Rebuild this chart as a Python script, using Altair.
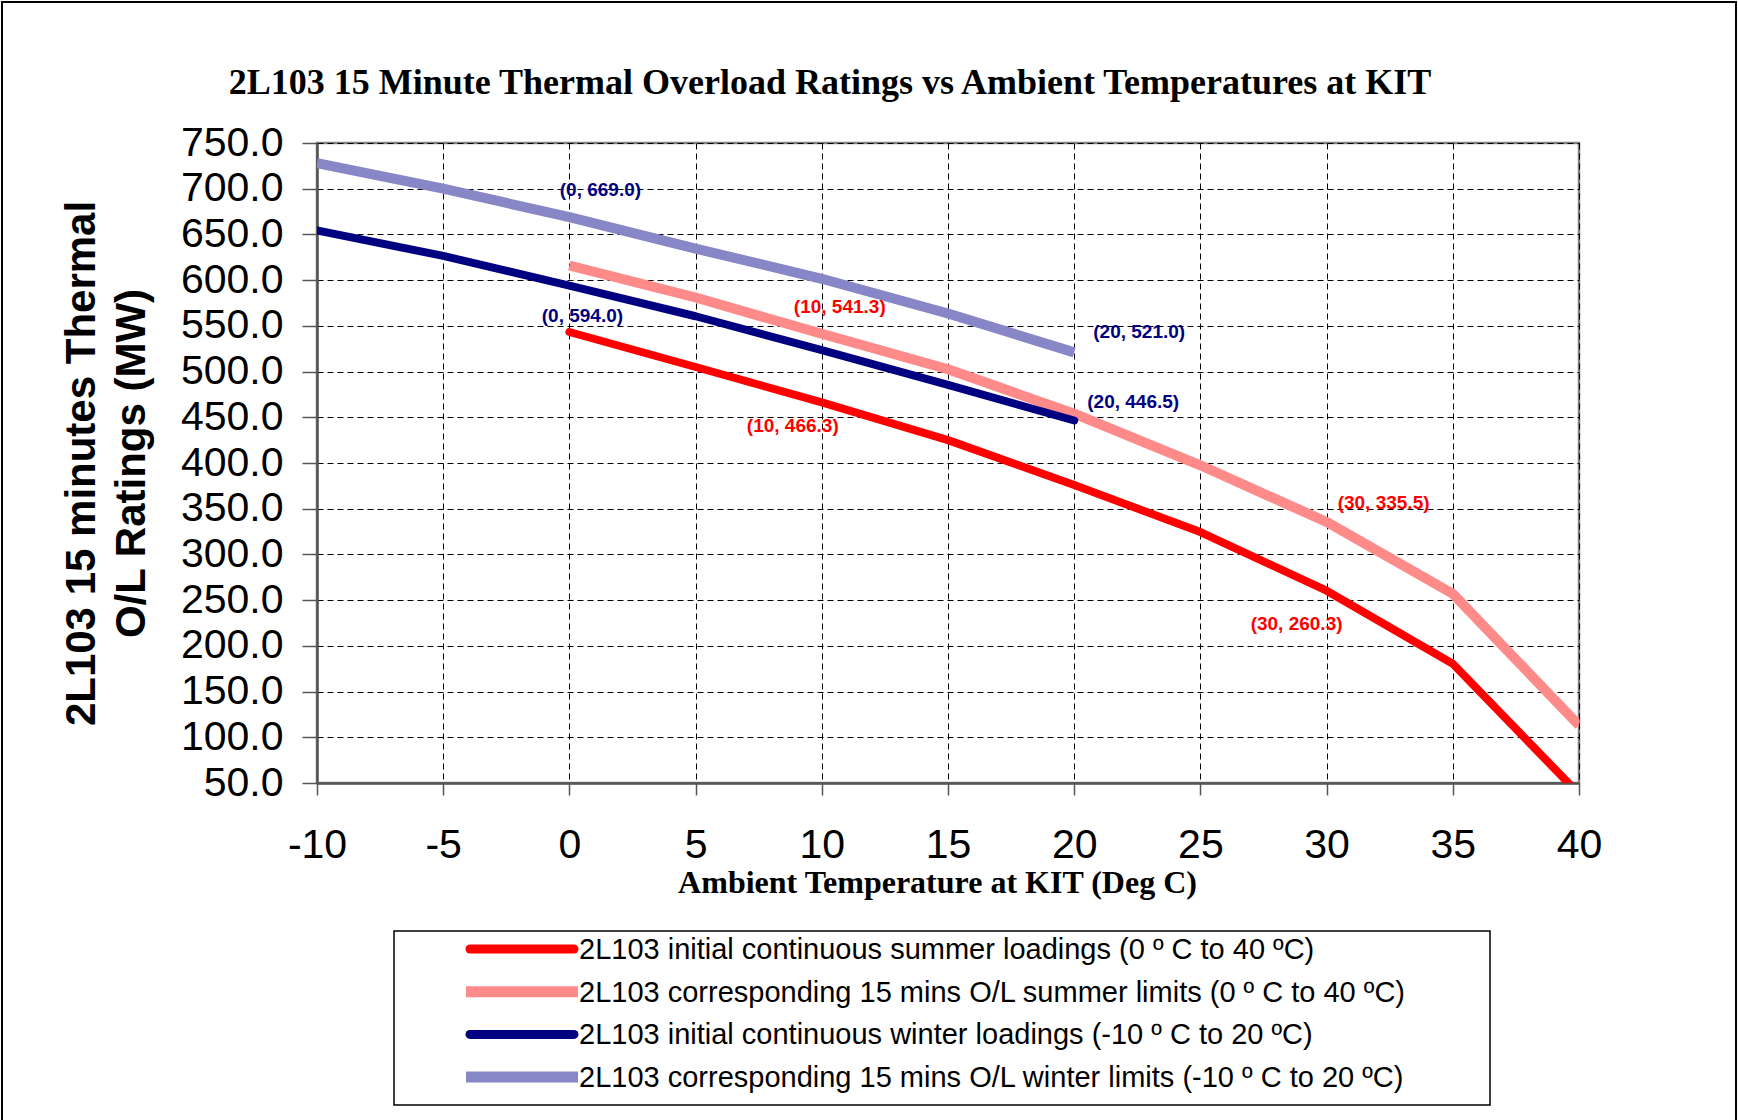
import altair as alt
import pandas as pd

# ---------------- data ----------------
chart_title = "2L103 15 Minute Thermal Overload Ratings vs Ambient Temperatures at KIT"

summer_x = [0, 5, 10, 15, 20, 25, 30, 35, 40]
summer_initial = [543.3, 505.0, 466.3, 425.0, 376.0, 324.5, 260.3, 180.5, 38.0]
summer_limits = [616.0, 581.0, 541.3, 502.5, 454.0, 397.5, 335.5, 257.0, 113.0]

winter_x = [-10, -5, 0, 5, 10, 15, 20]
winter_initial = [654.5, 626.5, 594.0, 560.5, 523.5, 485.5, 446.5]
winter_limits = [728.0, 700.0, 669.0, 634.5, 601.5, 563.5, 521.0]

series_names = [
    "2L103 initial continuous summer loadings (0 º C to 40 ºC)",
    "2L103 corresponding 15 mins O/L summer limits (0 º C to 40 ºC)",
    "2L103 initial continuous winter loadings (-10 º C to 20 ºC)",
    "2L103 corresponding 15 mins O/L winter limits (-10 º C to 20 ºC)",
]
series_colors = ["#FF0000", "#FF8A8A", "#000080", "#8787C8"]
series_widths = [8, 10, 8, 10]
series_caps = ["round", "butt", "round", "butt"]

x_ticks = [-10, -5, 0, 5, 10, 15, 20, 25, 30, 35, 40]
y_ticks = [50, 100, 150, 200, 250, 300, 350, 400, 450, 500, 550, 600, 650, 700, 750]

# annotated points: (series index, x value)
annot_series = [3, 2, 1, 0, 3, 2, 1, 0]
annot_x = [0, 0, 10, 10, 20, 20, 30, 30]
annot_dx = [31, 13, 18, -29, 65, 59, 57, -30]
annot_dy = [-27, 30, -27, 24, -20, -18, -19, 33]
annot_colors = ["#000080", "#000080", "#FF0000", "#FF0000", "#000080", "#000080", "#FF0000", "#FF0000"]

all_x = [summer_x, summer_x, winter_x, winter_x]
all_y = [summer_initial, summer_limits, winter_initial, winter_limits]

# ---------------- chart ----------------
xscale = alt.Scale(domain=[-10, 40], nice=False, zero=False)
yscale = alt.Scale(domain=[50, 750], nice=False, zero=False)

x_axis = alt.Axis(
    values=x_ticks, labelExpr="'' + datum.value", tickSize=12, labelPadding=30,
    labelFlush=False, labelOverlap=False,
    title="Ambient Temperature at KIT (Deg C)",
    titleFont="Liberation Serif", titleFontSize=32, titleFontWeight="bold",
    titleX=620, titleY=99, titleAlign="center", titleBaseline="middle",
)
y_axis = alt.Axis(
    values=y_ticks, format=".1f", tickSize=15, labelPadding=19,
    labelFlush=False, labelOverlap=False,
    title=["2L103 15 minutes Thermal", "O/L Ratings (MW)"],
    titleFont="Liberation Sans", titleFontSize=42, titleFontWeight="bold",
    titleAngle=270, titleX=-236, titleY=320, titleAlign="center",
    titleBaseline="middle", titleLineHeight=50,
)

layers = []

for i, name in enumerate(series_names):
    df = pd.DataFrame({"t": all_x[i], "v": all_y[i], "series": name})
    layers.append(
        alt.Chart(df).mark_line(
            color=series_colors[i], strokeWidth=series_widths[i],
            strokeCap=series_caps[i], strokeJoin="round", clip=True,
        ).encode(
            x=alt.X("t:Q", scale=xscale, axis=x_axis),
            y=alt.Y("v:Q", scale=yscale, axis=y_axis),
            order="t:Q",
        )
    )

for k in range(len(annot_x)):
    s = annot_series[k]
    xv = annot_x[k]
    vv = all_y[s][all_x[s].index(xv)]
    df = pd.DataFrame({"t": [xv], "v": [vv], "lab": [f"({xv}, {vv:.1f})"]})
    layers.append(
        alt.Chart(df).mark_text(
            dx=annot_dx[k], dy=annot_dy[k], color=annot_colors[k],
            font="Liberation Sans", fontWeight="bold", fontSize=19,
            align="center", baseline="middle",
        ).encode(
            x=alt.X("t:Q", scale=xscale, axis=x_axis),
            y=alt.Y("v:Q", scale=yscale, axis=y_axis),
            text="lab:N",
        )
    )

# frame around the whole picture (decoration) and the chart title
frame_df = pd.DataFrame({"a": [0], "title": [chart_title]})
layers.append(
    alt.Chart(frame_df).mark_rect(
        fill="transparent", stroke="black", strokeWidth=2
    ).encode(x=alt.value(-315), x2=alt.value(1419), y=alt.value(-141), y2=alt.value(1000))
)
layers.append(
    alt.Chart(frame_df).mark_text(
        font="Liberation Serif", fontSize=36, fontWeight="bold", color="black",
        align="center", baseline="middle",
    ).encode(x=alt.value(513), y=alt.value(-60), text="title:N")
)

# ---------------- legend (drawn below the plot) ----------------
layers.append(
    alt.Chart(frame_df).mark_rect(
        fill="white", stroke="black", strokeWidth=1.5
    ).encode(x=alt.value(77), x2=alt.value(1173), y=alt.value(788), y2=alt.value(962))
)
row_y0 = 806
row_step = 42.7
for i, name in enumerate(series_names):
    ld = pd.DataFrame({"name": [name]})
    yy = row_y0 + i * row_step
    layers.append(
        alt.Chart(ld).mark_rule(
            color=series_colors[i], strokeWidth=series_widths[i] + 1,
            strokeCap=series_caps[i],
        ).encode(
            x=alt.value(153 if series_caps[i] == "round" else 149),
            x2=alt.value(257 if series_caps[i] == "round" else 261),
            y=alt.value(yy),
        )
    )
    layers.append(
        alt.Chart(ld).mark_text(
            align="left", baseline="middle", font="Liberation Sans",
            fontSize=29, color="black",
        ).encode(x=alt.value(262), y=alt.value(yy + 1), text="name:N")
    )

chart = (
    alt.layer(*layers)
    .properties(
        width=1262, height=640,
        autosize=alt.AutoSizeParams(type="none"),
        padding={"left": 317, "top": 143, "right": 159, "bottom": 337},
        background="white",
    )
    .configure_view(stroke="#808080", strokeWidth=2.5)
    .configure_axis(
        gridColor="black", gridDash=[6, 4], gridWidth=1, gridOpacity=1,
        domainColor="#555555", domainWidth=2.5,
        tickColor="#555555", tickWidth=1.5,
        labelFont="Liberation Sans", labelFontSize=41, labelColor="black",
        titleColor="black",
    )
)

chart.save("out.html", embed_options={"renderer": "svg", "actions": False})
